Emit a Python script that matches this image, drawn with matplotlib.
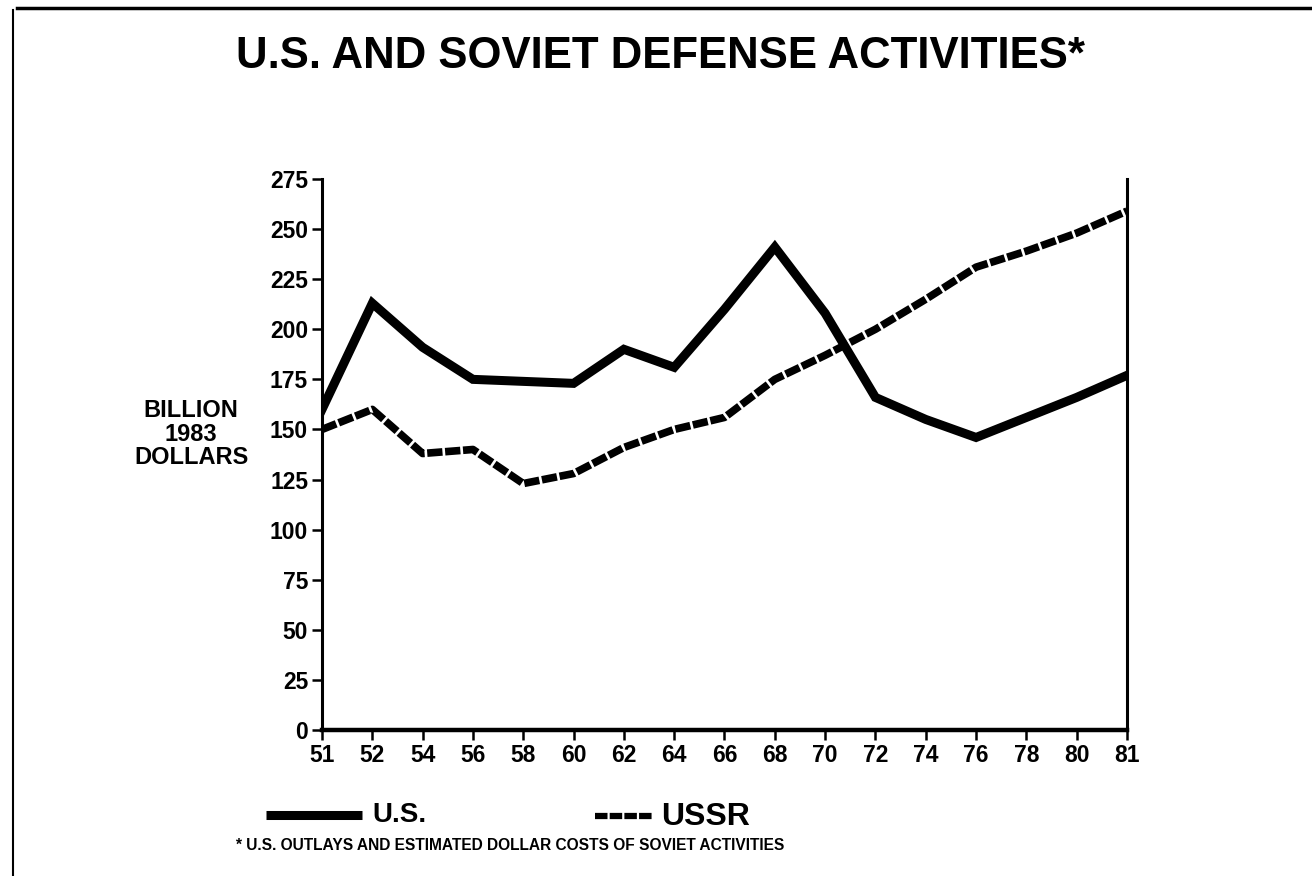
import matplotlib
matplotlib.use("Agg")
import matplotlib.pyplot as plt
from matplotlib.lines import Line2D
import numpy as np

# ---------- Data ----------
years = ["51", "52", "54", "56", "58", "60", "62", "64", "66",
         "68", "70", "72", "74", "76", "78", "80", "81"]
us = [160, 213, 191, 175, 174, 173, 190, 181, 210,
      241, 208, 166, 155, 146, 156, 166, 177]
ussr = [150, 160, 138, 140, 123, 128, 141, 150, 156,
        175, 187, 200, 215, 231, 239, 248, 259]
y_ticks = list(range(0, 276, 25))

W, H = 1312, 876
FONT = ["Liberation Sans", "DejaVu Sans"]
HATCH = (0, (2.0, 0.35))  # stand-in for the hatched soviet line

fig = plt.figure(figsize=(W / 100, H / 100), dpi=100)
fig.patch.set_facecolor("white")

# plot area in pixel terms
left, right, bottom, top = 322, 1127, 730, 179
ax = fig.add_axes([left / W, 1 - bottom / H, (right - left) / W, (bottom - top) / H])

x = np.arange(len(years))
ax.plot(x, us, color="black", lw=6.5, solid_joinstyle="miter", zorder=3)
ax.plot(x, ussr, color="black", lw=5.5, linestyle=HATCH,
        dash_capstyle="butt", zorder=2)

ax.set_xlim(0, len(years) - 1)
ax.set_ylim(0, 275)
ax.set_xticks(x)
ax.set_xticklabels(years)
ax.set_yticks(y_ticks)
ax.set_yticklabels([str(v) for v in y_ticks])

for lab in ax.get_xticklabels() + ax.get_yticklabels():
    lab.set_family(FONT)
    lab.set_fontweight("bold")
    lab.set_fontsize(16.5)

ax.tick_params(axis="both", direction="out", length=7, width=1.8, color="black", pad=3)
ax.spines["top"].set_visible(False)
ax.spines["left"].set_linewidth(2.2)
ax.spines["bottom"].set_linewidth(3.2)
ax.spines["right"].set_linewidth(2.2)
ax.patch.set_alpha(0)

# ---------- Text ----------
fig.text(661 / W, 1 - 56 / H, "U.S. AND SOVIET DEFENSE ACTIVITIES*",
         ha="center", va="center", fontsize=31.5, fontweight="bold", family=FONT)

fig.text(191 / W, 1 - 434 / H, "BILLION\n1983\nDOLLARS", ha="center", va="center",
         fontsize=17, fontweight="bold", family=FONT, linespacing=1.02)

# legend drawn by hand
fig.add_artist(Line2D([266 / W, 362 / W], [1 - 815 / H] * 2, color="black", lw=6.5,
                      solid_capstyle="butt", transform=fig.transFigure))
fig.text(372 / W, 1 - 815 / H, "U.S.", ha="left", va="center",
         fontsize=20, fontweight="bold", family=FONT)
fig.add_artist(Line2D([595 / W, 653 / W], [1 - 816 / H] * 2, color="black", lw=4.5,
                      linestyle=HATCH, dash_capstyle="butt",
                      transform=fig.transFigure))
fig.text(661 / W, 1 - 817 / H, "USSR", ha="left", va="center",
         fontsize=23, fontweight="bold", family=FONT)

fig.text(236 / W, 1 - 846 / H, "* U.S. OUTLAYS AND ESTIMATED DOLLAR COSTS OF SOVIET ACTIVITIES",
         ha="left", va="center", fontsize=11.2, fontweight="bold", family=FONT)

# page frame
fig.add_artist(Line2D([17 / W, 1.0], [1 - 8 / H] * 2, color="black", lw=2.5,
                      transform=fig.transFigure))
fig.add_artist(Line2D([13 / W, 13 / W], [1 - 10 / H, 0], color="black", lw=1.5,
                      transform=fig.transFigure))

fig.savefig("out.png", dpi=100)
